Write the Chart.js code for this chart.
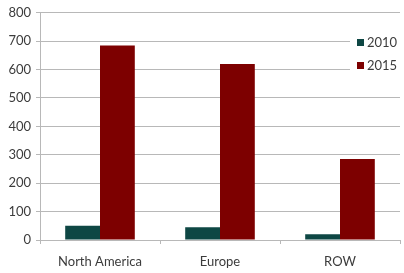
<!DOCTYPE html>
<html>
<head>
<meta charset="utf-8">
<script src="https://cdn.jsdelivr.net/npm/chart.js@4.4.1/dist/chart.umd.min.js"></script>
<style>
    html, body { margin: 0; padding: 0; background: #fff; }
    #wrap { width: 404px; height: 273px; position: relative; }
</style>
</head>
<body>
<div id="wrap"><canvas id="salesChart"></canvas></div>
<script>
// chart data
const regions = ['North America', 'Europe', 'ROW'];
const years = ['2010', '2015'];
const values2010 = [50, 45, 20];
const values2015 = [685, 620, 285];
const yTicks = [0, 100, 200, 300, 400, 500, 600, 700, 800];

const teal = '#0e4744';
const maroon = '#7d0000';
const gridGray = '#b8b8b8';

Chart.defaults.font.family = 'Lato, "Open Sans", sans-serif';
Chart.defaults.font.size = 13;
Chart.defaults.color = '#3c3c3c';

// legend drawn on the right, over the gridlines, like the original
const sideLegend = {
    id: 'sideLegend',
    afterDraw(chart) {
        const c = chart.ctx;
        const area = chart.chartArea;
        const x0 = area.right - 50;
        c.save();
        c.fillStyle = '#fff';
        c.fillRect(x0, 30, 54, 50);
        c.font = '13px Lato, "Open Sans", sans-serif';
        c.textBaseline = 'middle';
        chart.data.datasets.forEach((ds, i) => {
            const y = 43 + i * 23;
            c.fillStyle = ds.backgroundColor;
            c.fillRect(x0 + 7, y - 4, 7, 7);
            c.fillStyle = '#3c3c3c';
            c.fillText(ds.label, x0 + 17, y);
        });
        c.restore();
    }
};

const ctx = document.getElementById('salesChart').getContext('2d');

new Chart(ctx, {
    type: 'bar',
    data: {
        labels: regions,
        datasets: [
            { label: years[0], data: values2010, backgroundColor: teal },
            { label: years[1], data: values2015, backgroundColor: maroon }
        ]
    },
    options: {
        responsive: true,
        maintainAspectRatio: false,
        animation: false,
        layout: { padding: { top: 11, right: 4, left: 0, bottom: 0 } },
        categoryPercentage: 0.58,
        barPercentage: 1.0,
        plugins: {
            legend: { display: false },
            tooltip: { enabled: false }
        },
        scales: {
            x: {
                grid: { offset: true, drawOnChartArea: false, color: gridGray, tickLength: 4 },
                border: { color: gridGray },
                ticks: { padding: 10 },
                afterFit(scale) { scale.height = 33; }
            },
            y: {
                min: 0,
                max: 800,
                afterBuildTicks(scale) { scale.ticks = yTicks.map(v => ({ value: v })); },
                grid: { color: gridGray, tickLength: 4 },
                border: { color: gridGray },
                ticks: { padding: 5 },
                afterFit(scale) { scale.width = 40; }
            }
        }
    },
    plugins: [sideLegend]
});
</script>
</body>
</html>
